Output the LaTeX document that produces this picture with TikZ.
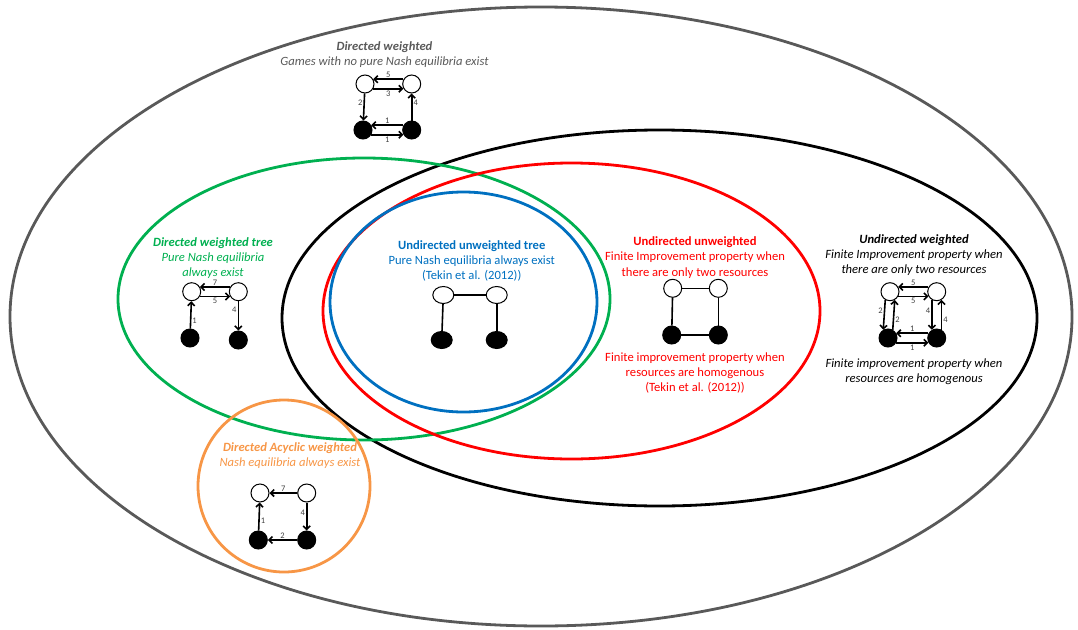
\documentclass[tikz,border=0pt]{standalone}
\usepackage{fontspec}
\setmainfont{Carlito}
\usetikzlibrary{arrows.meta,shapes.geometric}
\definecolor{cgray}{RGB}{89,89,89}
\definecolor{cgreen}{RGB}{0,176,80}
\definecolor{cred}{RGB}{255,0,0}
\definecolor{cblue}{RGB}{0,112,192}
\definecolor{corange}{RGB}{247,150,70}
\definecolor{clab}{RGB}{64,64,64}
\begin{document}
\begin{tikzpicture}[x=1pt,y=-1pt,
  ell/.style={line width=2.8pt},
  wn/.style={circle,draw,fill=white,line width=1pt,minimum size=18pt,inner sep=0pt},
  bn/.style={wn,fill=black},
  we/.style={ellipse,draw,fill=white,line width=1pt,minimum width=21pt,minimum height=17pt,inner sep=0pt},
  be/.style={we,fill=black},
  ed/.style={line width=1.6pt},
  arr/.style={line width=1.6pt,-{Straight Barb[length=3.5pt,width=7pt]}},
  wl/.style={font=\fontsize{8.5}{9}\selectfont,text=clab,inner sep=1pt},
  txt/.style={anchor=base,font=\fontsize{12.6}{14}\selectfont,inner sep=0pt}]
\useasboundingbox (0,0) rectangle (1078,629);

% ellipses
\draw[ell,cgray] (541,316.5) ellipse [x radius=531pt, y radius=309.5pt];
\draw[ell,black] (659.5,318) ellipse [x radius=377.5pt, y radius=188pt];
\draw[ell,cgreen] (364,299) ellipse [x radius=246pt, y radius=141pt];
\draw[ell,cred] (571.5,311) ellipse [x radius=248.5pt, y radius=148pt];
\draw[ell,cblue] (463.5,302) ellipse [x radius=133.5pt, y radius=110pt];
\draw[ell,corange] (284,486) circle [radius=86pt];

% --- Directed weighted (top)
\node[txt,text=cgray] (t1a) at (384.5,50) {\textbf{\textit{Directed weighted}}};
\node[txt,text=cgray] (t1b) at (384.5,65) {\textit{Games with no pure Nash equilibria exist}};
\node[wn] (dA) at (365,84) {};
\node[wn] (dB) at (411.7,84) {};
\node[bn] (dC) at (363,130) {};
\node[bn] (dD) at (411.7,130) {};
\draw[arr] (dB.150) -- (dA.30) node[midway,above,wl] {5};
\draw[arr] (dA.-30) -- (dB.-150) node[midway,below,wl] {3};
\draw[arr] (dA) -- (dC) node[pos=0.35,left,wl] {2};
\draw[arr] (dD) -- (dB) node[pos=0.65,right,wl] {4};
\draw[arr] (dD.150) -- (dC.30) node[midway,above,wl] {1};
\draw[arr] (dC.-30) -- (dD.-150) node[midway,below,wl] {1};

% --- Directed weighted tree (green)
\node[txt,text=cgreen] (t2a) at (213,246) {\textbf{\textit{Directed weighted tree}}};
\node[txt,text=cgreen] (t2b) at (213,261) {\textit{Pure Nash equilibria}};
\node[txt,text=cgreen] (t2c) at (213,276) {\textit{always exist}};
\node[wn] (gA) at (191.7,291.7) {};
\node[wn] (gB) at (238.3,291.7) {};
\node[bn] (gC) at (190,338) {};
\node[bn] (gD) at (238.3,340) {};
\draw[arr] (gB.150) -- (gA.30) node[midway,above,wl] {7};
\draw[arr] (gA.-30) -- (gB.-150) node[midway,below,wl] {5};
\draw[arr] (gC) -- (gA) node[pos=0.3,right,wl] {1};
\draw[arr] (gB) -- (gD) node[pos=0.3,left,wl] {4};

% --- Undirected unweighted tree (blue)
\node[txt,text=cblue] (t3a) at (471.7,249) {\textbf{Undirected unweighted tree}};
\node[txt,text=cblue] (t3b) at (471.7,264) {Pure Nash equilibria always exist};
\node[txt,text=cblue] (t3c) at (471.7,279) {(Tekin et al. (2012))};
\node[we] (bA) at (443.3,295) {};
\node[we] (bB) at (496.7,295) {};
\node[be] (bC) at (441.7,340) {};
\node[be] (bD) at (496.7,340) {};
\draw[ed] (bA) -- (bB);
\draw[ed] (bA) -- (bC);
\draw[ed] (bB) -- (bD);

% --- Undirected unweighted (red)
\node[txt,text=cred] (t4a) at (695,245) {\textbf{Undirected unweighted}};
\node[txt,text=cred] (t4b) at (695,260) {Finite Improvement property when};
\node[txt,text=cred] (t4c) at (695,276) {there are only two resources};
\node[txt,text=cred] (t4d) at (695,361) {Finite improvement property when};
\node[txt,text=cred] (t4e) at (695,376) {resources are homogenous};
\node[txt,text=cred] (t4f) at (695,391) {(Tekin et al. (2012))};
\node[wn] (rA) at (672.7,288.3) {};
\node[wn] (rB) at (718.3,288.3) {};
\node[bn] (rC) at (671.7,335) {};
\node[bn] (rD) at (718.3,335) {};
\draw[ed] (rA) -- (rB);
\draw[ed] (rA) -- (rC);
\draw[ed] (rB) -- (rD);
\draw[ed] (rC) -- (rD);

% --- Undirected weighted (black)
\node[txt,text=black] (t5a) at (914,243) {\textbf{\textit{Undirected weighted}}};
\node[txt,text=black] (t5b) at (914,258) {\textit{Finite Improvement property when}};
\node[txt,text=black] (t5c) at (914,273) {\textit{there are only two resources}};
\node[txt,text=black] (t5d) at (914,367) {\textit{Finite improvement property when}};
\node[txt,text=black] (t5e) at (914,382) {\textit{resources are homogenous}};
\node[wn] (uA) at (890,291.7) {};
\node[wn] (uB) at (936.7,291.7) {};
\node[bn] (uC) at (888,338) {};
\node[bn] (uD) at (936.7,338) {};
\draw[arr] (uB.150) -- (uA.30) node[midway,above,wl] {5};
\draw[arr] (uA.-30) -- (uB.-150) node[midway,below,wl] {5};
\draw[arr] (uA.240) -- (uC.120) node[pos=0.35,left,wl] {2};
\draw[arr] (uC.60) -- (uA.300) node[pos=0.35,right,wl] {2};
\draw[arr] (uB.240) -- (uD.120) node[pos=0.35,left,wl] {4};
\draw[arr] (uD.60) -- (uB.300) node[pos=0.35,right,wl] {4};
\draw[arr] (uD.150) -- (uC.30) node[midway,above,wl] {1};
\draw[arr] (uC.-30) -- (uD.-150) node[midway,below,wl] {1};

% --- Directed Acyclic weighted (orange)
\node[txt,text=corange] (t6a) at (290,451) {\textbf{\textit{Directed Acyclic weighted}}};
\node[txt,text=corange] (t6b) at (290,466) {\textit{Nash equilibria always exist}};
\node[wn] (oA) at (260,493) {};
\node[wn] (oB) at (306.7,493) {};
\node[bn] (oC) at (258.3,540) {};
\node[bn] (oD) at (306.7,540) {};
\draw[arr] (oB) -- (oA) node[midway,above,wl] {7};
\draw[arr] (oB) -- (oD) node[pos=0.35,left,wl] {4};
\draw[arr] (oD) -- (oC) node[midway,above,wl] {2};
\draw[arr] (oC) -- (oA) node[pos=0.35,right,wl] {1};
\end{tikzpicture}
\end{document}
